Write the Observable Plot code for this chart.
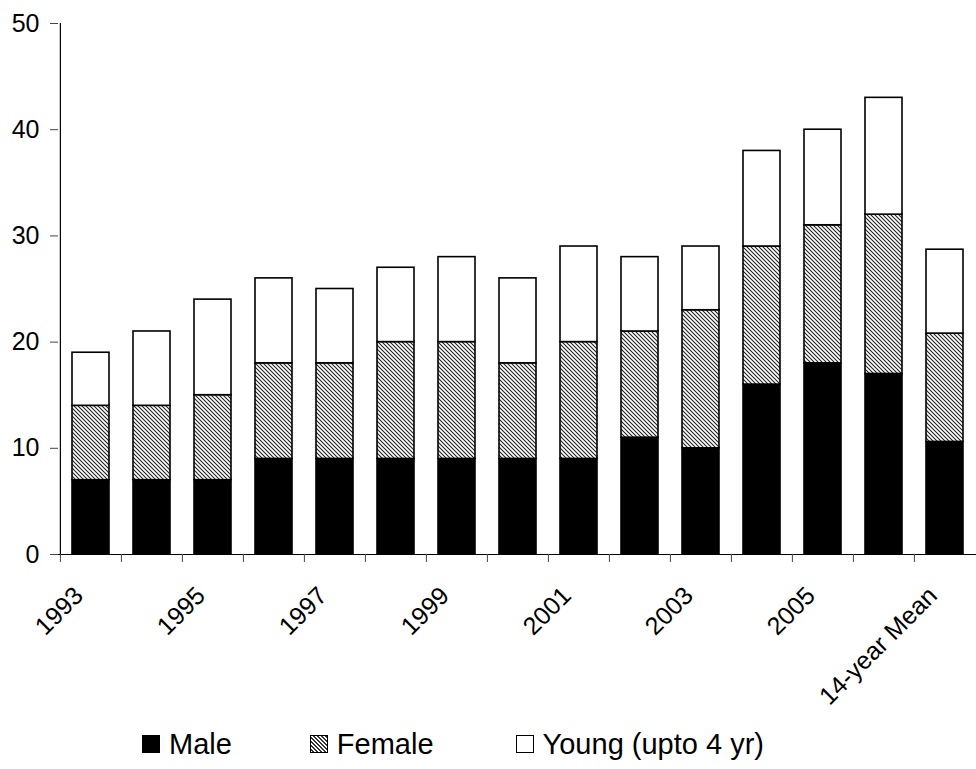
<!DOCTYPE html>
<html><head><meta charset="utf-8">
<script src="https://cdn.jsdelivr.net/npm/d3@7"></script>
<script src="https://cdn.jsdelivr.net/npm/@observablehq/plot@0.6"></script>
<style>
body{margin:0;background:#fff;font-family:Arial,"Liberation Sans",sans-serif;}
#legend{display:flex;align-items:center;padding-left:142px;gap:0;font-size:29px;color:#000;height:58px;}
.item{display:flex;align-items:center;}
</style>
</head><body>
<div id="chart"></div>
<div id="legend"></div>
<script>
const categories = ["1993","1994","1995","1996","1997","1998","1999","2000","2001","2002","2003","2004","2005","2006","14-year Mean"];
const male   = [7, 7, 7, 9, 9, 9, 9, 9, 9, 11, 10, 16, 18, 17, 10.6];
const female = [7, 7, 8, 9, 9, 11, 11, 9, 11, 10, 13, 13, 13, 15, 10.2];
const young  = [5, 7, 9, 8, 7, 7, 8, 8, 9, 7, 6, 9, 9, 11, 7.9];
const series = ["Male", "Female", "Young (upto 4 yr)"];
const yTicks = [0, 10, 20, 30, 40, 50];
const labeled = categories.filter((d, i) => i % 2 === 0);

const data = categories.flatMap((c, i) => [
  {cat: c, series: series[0], value: male[i]},
  {cat: c, series: series[1], value: female[i]},
  {cat: c, series: series[2], value: young[i]}
]);

const W = 976, H = 715, mL = 58, mR = 0;
const step = (W - mL - mR) / categories.length;

const plot = Plot.plot({
  width: W, height: H,
  marginLeft: mL, marginRight: mR, marginTop: 23, marginBottom: H - 554,
  style: {fontFamily: "Arial, 'Liberation Sans', sans-serif", fontSize: "24px", color: "#000", background: "#fff"},
  x: {domain: categories, paddingInner: 0.4, paddingOuter: 0.2, align: 0.5},
  y: {domain: [0, 50]},
  color: {domain: series, range: ["#000", "url(#hatch)", "#fff"]},
  marks: [
    Plot.barY(data, Plot.stackY({x: "cat", y: "value", fill: "series", order: series, stroke: "#000", strokeWidth: 1.6})),
    Plot.ruleY([0], {stroke: "#000", strokeWidth: 1.2}),
    Plot.ruleX([categories[0]], {y1: 0, y2: 50, dx: -step / 2, stroke: "#000", strokeWidth: 1.2}),
    Plot.axisY({ticks: yTicks, tickSize: 8, tickPadding: 11, label: null, fontSize: 25, stroke: "#444"}),
    Plot.axisX({ticks: categories, tickSize: 8, tickFormat: () => "", dx: -step / 2, label: null, stroke: "#444"}),
    Plot.axisX({ticks: labeled, tickSize: 0, tickRotate: -45, tickPadding: 32, dx: -12, dy: 5, label: null, fontSize: 25})
  ]
});

const svg = d3.select(plot);
const defs = svg.insert("defs", ":first-child");
const pat = defs.append("pattern").attr("id", "hatch").attr("patternUnits", "userSpaceOnUse")
  .attr("width", 4).attr("height", 4);
pat.append("rect").attr("width", 4).attr("height", 4).attr("fill", "#fff");
pat.append("path").attr("d", "M-1,-1L5,5M-1,3L1,5M3,-1L5,1").attr("stroke", "#222").attr("stroke-width", 1.1);

document.getElementById("chart").appendChild(plot);

const legend = d3.select("#legend");
const swStyles = [
  "background:#000;",
  "border:1px solid #000;background-image:repeating-linear-gradient(45deg,#fff 0,#fff 1.4px,#333 1.4px,#333 2.8px);",
  "border:1.5px solid #000;background:#fff;"
];
const gaps = [0, 78, 82];
series.forEach((s, i) => {
  const it = legend.append("div").attr("class", "item").style("margin-left", gaps[i] + "px");
  it.append("div").attr("style", "width:18px;height:18px;box-sizing:border-box;margin-right:9px;" + swStyles[i]);
  it.append("span").text(s);
});
</script>
</body></html>
